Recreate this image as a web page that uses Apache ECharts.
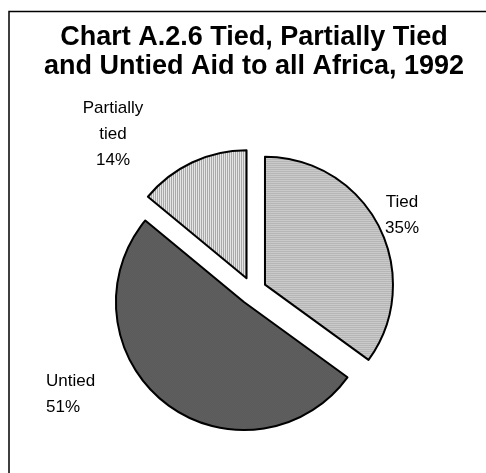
<!DOCTYPE html>
<html>
<head>
<meta charset="utf-8">
<script src="https://cdn.jsdelivr.net/npm/echarts@6/dist/echarts.min.js"></script>
<style>
  html, body { margin: 0; padding: 0; background: #fff; }
  #chart { width: 486px; height: 473px; }
</style>
</head>
<body>
<div id="chart"></div>
<script>
// slices, clockwise from 12 o'clock
const names = ['Tied', 'Untied', 'Partially\ntied'];
const shares = [35, 51, 14];
const titleLines = ['Chart A.2.6 Tied, Partially Tied', 'and Untied Aid to all Africa, 1992'];

// where the data labels sit: [x, y of block centre, align]
const labelAt = [[402, 215, 'center'], [46, 394, 'left'], [113, 134, 'center']];

function makePattern(w, h, paint) {
    let c = document.createElement('canvas');
    c.width = w; c.height = h;
    let ctx = c.getContext('2d');
    paint(ctx);
    return { image: c, repeat: 'repeat' };
}
// horizontal lines
let tiedFill = makePattern(1, 2, (ctx) => {
    ctx.fillStyle = '#e4e4e4'; ctx.fillRect(0, 0, 1, 1);
    ctx.fillStyle = '#9c9c9c'; ctx.fillRect(0, 1, 1, 1);
});
// fine dark dots
let untiedFill = makePattern(2, 2, (ctx) => {
    ctx.fillStyle = '#4c4c4c'; ctx.fillRect(0, 0, 2, 2);
    ctx.fillStyle = '#6e6e6e'; ctx.fillRect(0, 0, 1, 1); ctx.fillRect(1, 1, 1, 1);
});
// vertical lines
let partFill = makePattern(2, 1, (ctx) => {
    ctx.fillStyle = '#e8e8e8'; ctx.fillRect(0, 0, 1, 1);
    ctx.fillStyle = '#a6a6a6'; ctx.fillRect(1, 0, 1, 1);
});
const fills = [tiedFill, untiedFill, partFill];

let total = shares.reduce((a, b) => a + b, 0);
let labels = names.map((n, i) => ({
    type: 'text',
    silent: true,
    style: {
        text: n + '\n' + Math.round(shares[i] / total * 100) + '%',
        x: labelAt[i][0],
        y: labelAt[i][1],
        align: labelAt[i][2],
        verticalAlign: 'middle',
        font: '17px "Liberation Sans", Arial, sans-serif',
        lineHeight: 26,
        fill: '#000'
    }
}));

let myChart = echarts.init(document.getElementById('chart'), null, { renderer: 'canvas' });
let option = {
    animation: false,
    backgroundColor: '#fff',
    title: {
        text: titleLines.join('\n'),
        left: 249,
        top: 18,
        textAlign: 'center',
        textStyle: {
            fontFamily: 'Liberation Sans, Arial, sans-serif',
            fontWeight: 'bold',
            fontSize: 27,
            lineHeight: 29,
            color: '#000'
        }
    },
    graphic: [{
        type: 'rect',
        shape: { x: 9, y: 11.5, width: 600, height: 600 },
        style: { fill: 'none', stroke: '#000', lineWidth: 1.5 },
        silent: true
    }].concat(labels),
    series: [{
        type: 'pie',
        center: [252.5, 291],
        radius: 128,
        startAngle: 90,
        clockwise: true,
        selectedMode: 'multiple',
        selectedOffset: 14,
        emphasis: { disabled: true },
        itemStyle: { borderColor: '#000', borderWidth: 2 },
        label: { show: false },
        labelLine: { show: false },
        data: names.map((n, i) => ({
            name: n,
            value: shares[i],
            selected: true,
            itemStyle: { color: fills[i] }
        }))
    }]
};
myChart.setOption(option);
</script>
</body>
</html>
